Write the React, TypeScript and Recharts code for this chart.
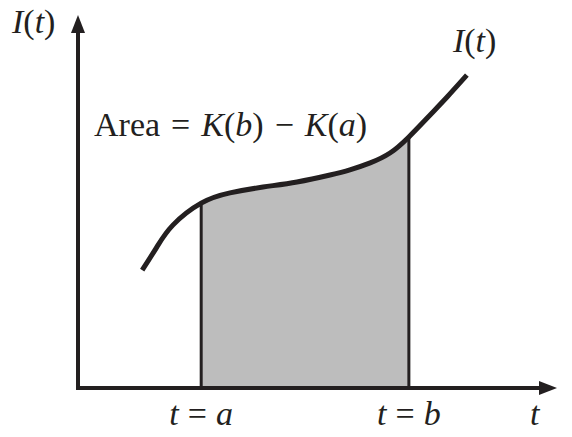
import React from "react";
import {
  ComposedChart,
  Area,
  Line,
  XAxis,
  YAxis,
  ReferenceLine,
  ReferenceDot,
} from "recharts";

// curve I(t) (t and I on a 0..10 scale)
const tValues = [1.36, 1.67, 2.01, 2.61, 3.22, 3.92, 4.64, 5.34, 5.76, 6.19, 6.61, 7.01, 7.46, 7.82, 8.24];
const iValues = [3.22, 3.85, 4.45, 5.05, 5.33, 5.49, 5.63, 5.82, 5.96, 6.15, 6.42, 6.86, 7.46, 7.95, 8.55];

const tA = 2.61;
const tB = 7.01;
const tickValues = [tA, tB];
const tickNames = ["a", "b"];

const INK = "#231f20";
const SHADE = "#bdbdbd";
const FONT = "'Liberation Serif', 'Times New Roman', serif";

const data = tValues.map((t, i) => ({ t, I: iValues[i] }));

const iAt = (t: number) => iValues[tValues.indexOf(t)];
const lastIdx = tValues.length - 1;
// shading only between a and b: gradient stops relative to the curve's span
const span = tValues[lastIdx] - tValues[0];
const fromA = (tA - tValues[0]) / span;
const toB = (tB - tValues[0]) / span;

const ItalicI = () => (
  <>
    <tspan fontStyle="italic">I</tspan>
    <tspan>(</tspan>
    <tspan fontStyle="italic">t</tspan>
    <tspan>)</tspan>
  </>
);

const TTick = (props: any) => {
  const { x, payload } = props;
  const name = tickNames[tickValues.indexOf(payload.value)];
  return (
    <text x={x} y={425} textAnchor="middle" fontFamily={FONT} fontSize={34} fill={INK}>
      <tspan fontStyle="italic">t</tspan>
      <tspan dx={9}>=</tspan>
      <tspan dx={9} fontStyle="italic">{name}</tspan>
    </text>
  );
};

export default function App() {
  return (
    <div style={{ position: "absolute", left: 0, top: 0, width: 572, height: 437 }}>
      <ComposedChart
        width={572}
        height={437}
        data={data}
        margin={{ top: 22, right: 22, left: 0, bottom: 0 }}
      >
        <defs>
          <marker
            id="arrow"
            viewBox="0 0 18 14"
            refX={11}
            refY={7}
            markerWidth={18}
            markerHeight={14}
            markerUnits="userSpaceOnUse"
            orient="auto-start-reverse"
          >
            <path d="M0,0 L18,7 L0,14 z" fill={INK} />
          </marker>
          <linearGradient id="shadeAB" x1="0" y1="0" x2="1" y2="0">
            <stop offset={fromA} stopColor={SHADE} stopOpacity={0} />
            <stop offset={fromA} stopColor={SHADE} stopOpacity={1} />
            <stop offset={toB} stopColor={SHADE} stopOpacity={1} />
            <stop offset={toB} stopColor={SHADE} stopOpacity={0} />
          </linearGradient>
        </defs>
        <XAxis
          dataKey="t"
          type="number"
          domain={[0, 10]}
          ticks={tickValues}
          tick={<TTick />}
          tickLine={false}
          height={49}
          axisLine={{ stroke: INK, strokeWidth: 4, markerEnd: "url(#arrow)" }}
          label={{
            content: (p: any) => (
              <text
                x={p.viewBox.x + p.viewBox.width - 20}
                y={425}
                fontFamily={FONT}
                fontSize={34}
                fontStyle="italic"
                fill={INK}
              >
                t
              </text>
            ),
          }}
        />
        <YAxis
          type="number"
          domain={[0, 10]}
          width={78}
          tick={false}
          tickLine={false}
          axisLine={{
            stroke: INK,
            strokeWidth: 4,
            strokeLinecap: "square",
            markerStart: "url(#arrow)",
          }}
          label={{
            content: () => (
              <text x={12} y={33} fontFamily={FONT} fontSize={34} fill={INK}>
                <ItalicI />
              </text>
            ),
          }}
        />
        <Area
          dataKey="I"
          type="natural"
          stroke="none"
          fill="url(#shadeAB)"
          fillOpacity={1}
          isAnimationActive={false}
        />
        <ReferenceLine
          segment={[
            { x: tA, y: 0 },
            { x: tA, y: iAt(tA) },
          ]}
          stroke={INK}
          strokeWidth={3}
        />
        <ReferenceLine
          segment={[
            { x: tB, y: 0 },
            { x: tB, y: iAt(tB) },
          ]}
          stroke={INK}
          strokeWidth={3}
        />
        <Line
          dataKey="I"
          type="natural"
          stroke={INK}
          strokeWidth={5}
          dot={false}
          isAnimationActive={false}
        />
        <ReferenceDot
          x={tValues[lastIdx]}
          y={iValues[lastIdx]}
          r={0.01}
          fill="none"
          stroke="none"
          ifOverflow="visible"
          label={{
            content: (p: any) => (
              <text
                x={p.viewBox.x - 14}
                y={p.viewBox.y - 23}
                fontFamily={FONT}
                fontSize={34}
                fill={INK}
              >
                <ItalicI />
              </text>
            ),
          }}
        />
        <ReferenceDot
          x={0.34}
          y={6.89}
          r={0.01}
          fill="none"
          stroke="none"
          ifOverflow="visible"
          label={{
            content: (p: any) => (
              <text x={p.viewBox.x} y={p.viewBox.y} fontFamily={FONT} fontSize={34} fill={INK}>
                <tspan>Area</tspan>
                <tspan dx={11}>=</tspan>
                <tspan dx={11} fontStyle="italic">K</tspan>
                <tspan>(</tspan>
                <tspan fontStyle="italic">b</tspan>
                <tspan>)</tspan>
                <tspan dx={11}>−</tspan>
                <tspan dx={11} fontStyle="italic">K</tspan>
                <tspan>(</tspan>
                <tspan fontStyle="italic">a</tspan>
                <tspan>)</tspan>
              </text>
            ),
          }}
        />
      </ComposedChart>
    </div>
  );
}
